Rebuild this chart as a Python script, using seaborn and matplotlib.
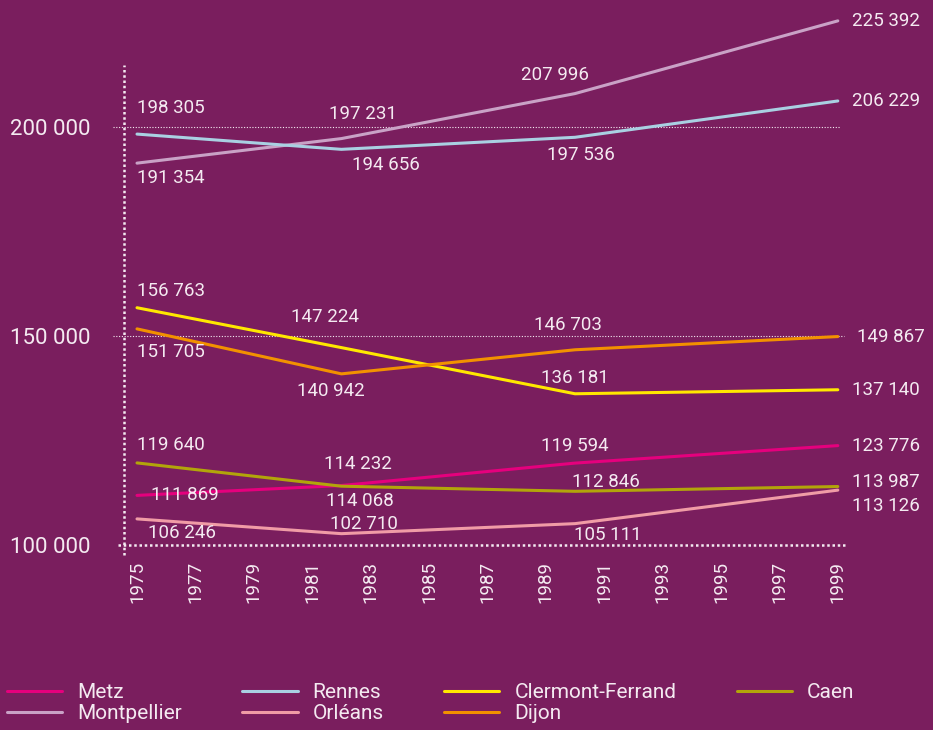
import pandas as pd
import matplotlib.pyplot as plt
from matplotlib.ticker import FuncFormatter
import seaborn as sns

# census years and populations
years = [1975, 1982, 1990, 1999]
metz = [111869, 114232, 119594, 123776]
montpellier = [191354, 197231, 207996, 225392]
rennes = [198305, 194656, 197536, 206229]
orleans = [106246, 102710, 105111, 113126]
clermont = [156763, 147224, 136181, 137140]
dijon = [151705, 140942, 146703, 149867]
caen = [119640, 114068, 112846, 113987]

cities = ['Metz', 'Montpellier', 'Rennes', 'Orléans', 'Clermont-Ferrand', 'Dijon', 'Caen']
values = [metz, montpellier, rennes, orleans, clermont, dijon, caen]
colors = ['#E5007D', '#C9A2C6', '#A9D0E2', '#F09CA6', '#FFE800', '#F29100', '#B2A50A']

y_ticks = [100000, 150000, 200000]
x_ticks = list(range(1975, 2000, 2))

# label offsets in pixels (dx, dy, ha) for each point
label_pos = {
    'Montpellier': [(0, -15, 'left'), (22, 25, 'center'), (-20, 19, 'center'), (14, 0, 'left')],
    'Rennes': [(0, 26, 'left'), (45, -16, 'center'), (6, -18, 'center'), (14, 0, 'left')],
    'Clermont-Ferrand': [(0, 17, 'left'), (-16, 31, 'center'), (0, 16, 'center'), (14, 0, 'left')],
    'Dijon': [(0, -23, 'left'), (-11, -17, 'center'), (-7, 25, 'center'), (19, 0, 'left')],
    'Metz': [(14, 0, 'left'), (17, 22, 'center'), (0, 17, 'center'), (14, 0, 'left')],
    'Caen': [(0, 18, 'left'), (18, -15, 'center'), (31, 9, 'center'), (14, 5, 'left')],
    'Orléans': [(11, -14, 'left'), (23, 10, 'center'), (33, -11, 'center'), (14, -16, 'left')],
}

bg = '#7A1E5E'
fg = '#F4EAF1'

df = pd.DataFrame({
    'Année': years * len(cities),
    'Population': [v for vals in values for v in vals],
    'Ville': [c for c in cities for _ in years],
})

sns.set_style('white')
plt.rcParams['font.family'] = ['Roboto', 'DejaVu Sans']

fig = plt.figure(figsize=(9.33, 7.3), dpi=100, facecolor=bg)
ax = fig.add_axes([113 / 933, 172 / 730, 735 / 933, 558 / 730])
ax.set_facecolor(bg)

sns.lineplot(data=df, x='Année', y='Population', hue='Ville', hue_order=cities,
             palette=dict(zip(cities, colors)), linewidth=2.2, ax=ax)

ax.set_xlim(1974.178, 1999.349)
ax.set_ylim(96890, 230383)

fmt = lambda v: f'{v:,.0f}'.replace(',', ' ')
ax.yaxis.set_major_formatter(FuncFormatter(lambda v, p: fmt(v)))
ax.set_yticks(y_ticks)
ax.set_xticks(x_ticks)
ax.set_xticklabels([str(x) for x in x_ticks], rotation=90)
ax.tick_params(axis='y', length=0, pad=16.5, labelsize=16, labelcolor=fg)
ax.tick_params(axis='x', length=0, pad=2, labelsize=13.5, labelcolor=fg)
ax.set_xlabel('')
ax.set_ylabel('')
for s in ax.spines.values():
    s.set_visible(False)

# dotted grid and axes
ax.axhline(200000, xmin=0, xmax=0.989, color=fg, lw=0.8, ls=(0, (1, 1.5)), zorder=1)
ax.axhline(150000, xmin=0, xmax=0.995, color=fg, lw=0.8, ls=(0, (1, 1.5)), zorder=1)
ax.axhline(100000, xmin=0.007, xmax=1, color=fg, lw=1.8, ls=(0, (1, 1.1)), zorder=1)
ax.axvline(1974.555, ymin=0.005, ymax=0.884, color=fg, lw=1.8, ls=(0, (1, 1.1)), zorder=1)

# value labels
for city, vals in zip(cities, values):
    for yr, v, (dx, dy, ha) in zip(years, vals, label_pos[city]):
        ax.annotate(fmt(v), (yr, v), xytext=(dx, dy), textcoords='offset pixels',
                    ha=ha, va='center', fontsize=13.5, color=fg, zorder=5)

handles, labels = ax.get_legend_handles_labels()
ax.get_legend().remove()
leg = fig.legend(handles, labels, ncol=4, loc='lower left', bbox_to_anchor=(7 / 933, 7 / 730),
                 frameon=False, fontsize=15, handlelength=2.65, handletextpad=0.72,
                 columnspacing=2.9, labelspacing=0.1, borderpad=0, borderaxespad=0)
for t in leg.get_texts():
    t.set_color(fg)
for h in leg.legend_handles:
    h.set_linewidth(2.2)

fig.savefig('out.png', dpi=100, facecolor=bg)
